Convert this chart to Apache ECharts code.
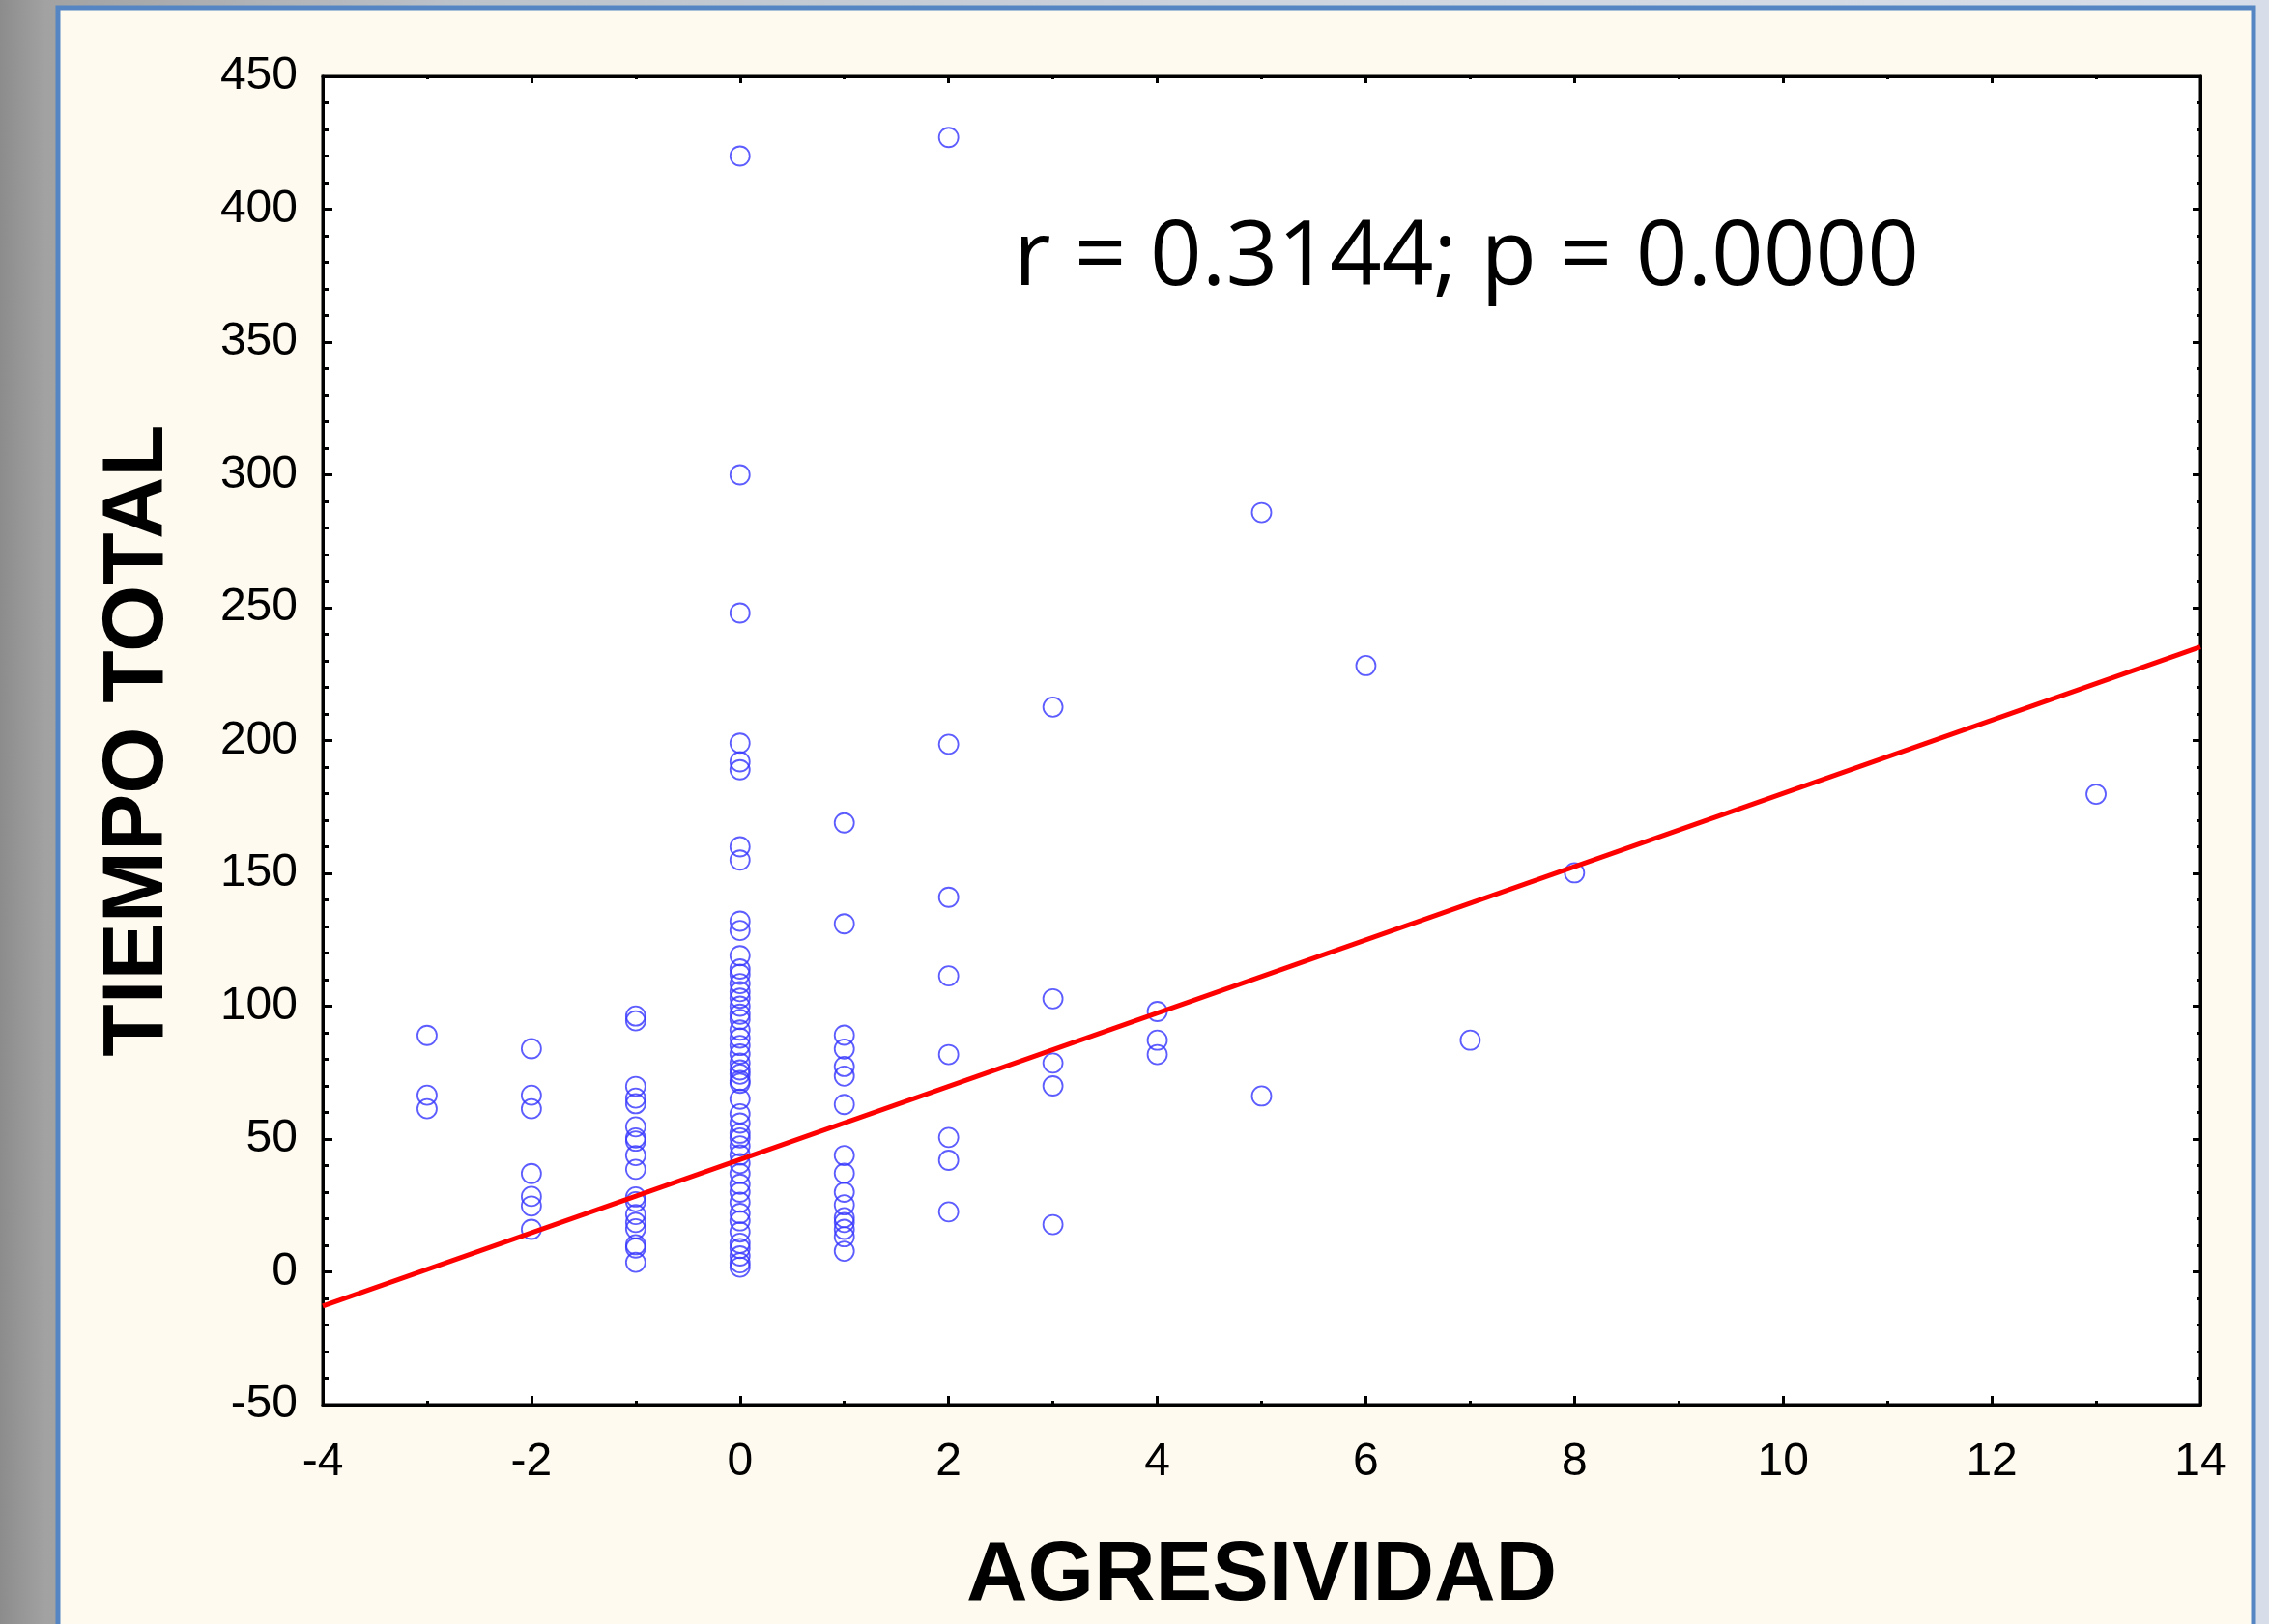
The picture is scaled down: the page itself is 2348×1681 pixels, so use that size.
<!DOCTYPE html>
<html>
<head>
<meta charset="utf-8">
<script src="https://cdn.jsdelivr.net/npm/echarts@6/dist/echarts.min.js"></script>
<style>
  html, body { margin: 0; padding: 0; overflow: hidden; width: 100%; height: 100%; }
  body { background: #FEFAF0; }
  #chart { position: absolute; left: 0; top: 0; width: 100vw; height: 100vh; }
</style>
</head>
<body>
<div id="chart"></div>
<script>
// X levels (AGRESIVIDAD) and TIEMPO TOTAL values observed at each level
const xLevels = [-3, -2, -1, 0, 1, 2, 3, 4, 5, 6, 7, 8, 13];
const tiempoAtM3 = [89, 66.5, 61.4];
const tiempoAtM2 = [84, 66.5, 61.4, 37, 28.4, 24.8, 16];
const tiempoAtM1 = [96.3, 94.5, 69.8, 65.4, 63.3, 54.6, 50.4, 49.2, 43.8, 38.6, 28.2, 26.4, 21.6, 18.6, 16.2, 10.2, 9, 3.6];
const tiempoAt0 = [420, 300, 248, 199, 192, 189, 160, 155, 132, 128.5, 119, 114, 112, 108.5, 105.5, 103, 100, 97, 95, 91, 88, 85.2, 82, 78.6, 76, 74.4, 72, 71, 65, 59.5, 56, 52.2, 50.4, 47.4, 44, 40.8, 37, 33, 30, 26.2, 22, 19.2, 15, 10.8, 8.8, 6, 3.4, 1.8];
const tiempoAt1 = [169, 131, 89.1, 83.9, 77.3, 73.7, 63, 43.8, 37.1, 30, 25.2, 20.4, 18.6, 16, 13.2, 7.8];
const tiempoAt2 = [427, 198.6, 141, 111.4, 81.8, 50.6, 42, 22.6];
const tiempoAt3 = [212.6, 102.8, 78.6, 70, 17.8];
const tiempoAt4 = [98, 87.2, 81.8];
const tiempoAt5 = [285.8, 66.2];
const tiempoAt6 = [228.2];
const tiempoAt7 = [87.2];
const tiempoAt8 = [150.2];
const tiempoAt13 = [179.8];
const tiempoGroups = [tiempoAtM3, tiempoAtM2, tiempoAtM1, tiempoAt0, tiempoAt1, tiempoAt2, tiempoAt3, tiempoAt4, tiempoAt5, tiempoAt6, tiempoAt7, tiempoAt8, tiempoAt13];

// Regression line end points
const fitX = [-4, 14];
const fitY = [-12.9, 235.2];

const statText = 'r = 0.3144; p = 0.0000';
const xTitle = 'AGRESIVIDAD';
const yTitle = 'TIEMPO TOTAL';

const scatterData = [];
xLevels.forEach((x, i) => tiempoGroups[i].forEach(t => scatterData.push([x, t])));
const fitData = fitX.map((x, i) => [x, fitY[i]]);

const chart = echarts.init(document.getElementById('chart'));
const W = chart.getWidth(), H = chart.getHeight();
const sx = W / 2348, sy = H / 1681;

const labelStyle = { color: '#000', fontFamily: 'Liberation Sans, Arial, sans-serif', fontSize: 48 };
const tickStyle = { color: '#000', width: 3 };
const lineAxis = { show: true, onZero: false, lineStyle: { color: '#000', width: 3 } };
const option = {
  animation: false,
  backgroundColor: 'transparent',
  graphic: [
    // surrounding backdrop (blurred photo / slide background)
    { type: 'rect', z: -20, shape: { x: 0, y: 0, width: W, height: H },
      style: { fill: new echarts.graphic.LinearGradient(0, 0, 1, 0, [
        { offset: 0, color: '#8c8c8c' }, { offset: 0.02, color: '#a2a2a2' },
        { offset: 0.2, color: '#bcc2ca' }, { offset: 0.6, color: '#cfd6e0' }, { offset: 1, color: '#d7dee9' }]) } },
    { type: 'rect', z: -10, shape: { x: 60 * sx, y: 8 * sy, width: 2272 * sx, height: H + 50 },
      style: { fill: '#FEFAF0', stroke: '#5585C2', lineWidth: 5 } },
    { type: 'text', z: 100, x: 1049 * sx, y: 268 * sy,
      style: { text: statText, fill: '#000', font: '94px "Open Sans", sans-serif', textAlign: 'left', textVerticalAlign: 'middle', verticalAlign: 'middle' } }
  ],
  grid: { left: 334 * sx, top: 79 * sy, width: 1943 * sx, height: 1390 * sy, show: true, backgroundColor: '#fff', borderColor: '#000', borderWidth: 3 },
  xAxis: [
    { type: 'value', min: -4, max: 14, interval: 2, position: 'bottom',
      name: xTitle, nameLocation: 'middle', nameGap: 134 * sy,
      nameTextStyle: { color: '#000', fontFamily: 'Liberation Sans, Arial, sans-serif', fontWeight: 'bold', fontSize: 88 },
      axisLine: lineAxis,
      axisTick: { show: true, inside: true, length: 9, lineStyle: tickStyle },
      minorTick: { show: true, splitNumber: 2, length: 4, lineStyle: tickStyle },
      axisLabel: Object.assign({ margin: 36 * sy }, labelStyle),
      splitLine: { show: false } },
    { type: 'value', min: -4, max: 14, interval: 2, position: 'top',
      axisLine: lineAxis,
      axisTick: { show: true, inside: true, length: 7, lineStyle: tickStyle },
      minorTick: { show: true, splitNumber: 2, length: 3, lineStyle: tickStyle },
      axisLabel: { show: false }, splitLine: { show: false } }
  ],
  yAxis: [
    { type: 'value', min: -50, max: 450, interval: 50, position: 'left',
      name: yTitle, nameLocation: 'middle', nameGap: 146 * sx, nameRotate: 90,
      nameTextStyle: { color: '#000', fontFamily: 'Liberation Sans, Arial, sans-serif', fontWeight: 'bold', fontSize: 89 },
      axisLine: lineAxis,
      axisTick: { show: true, inside: true, length: 10, lineStyle: tickStyle },
      minorTick: { show: true, splitNumber: 5, length: 6, lineStyle: tickStyle },
      axisLabel: Object.assign({ margin: 26 * sx }, labelStyle),
      splitLine: { show: false } },
    { type: 'value', min: -50, max: 450, interval: 50, position: 'right',
      axisLine: lineAxis,
      axisTick: { show: true, inside: true, length: 8, lineStyle: tickStyle },
      minorTick: { show: true, splitNumber: 5, length: 4, lineStyle: tickStyle },
      axisLabel: { show: false }, splitLine: { show: false } }
  ],
  series: [
    { type: 'scatter', xAxisIndex: 0, yAxisIndex: 0, data: scatterData, symbol: 'circle', symbolSize: 20,
      itemStyle: { color: 'rgba(0,0,0,0)', borderColor: '#3434FF', borderWidth: 1.8 }, z: 2 },
    { type: 'line', xAxisIndex: 0, yAxisIndex: 0, data: fitData, symbol: 'none',
      lineStyle: { color: '#FF0000', width: 5 }, z: 3 }
  ]
};
chart.setOption(option);
</script>
</body>
</html>
